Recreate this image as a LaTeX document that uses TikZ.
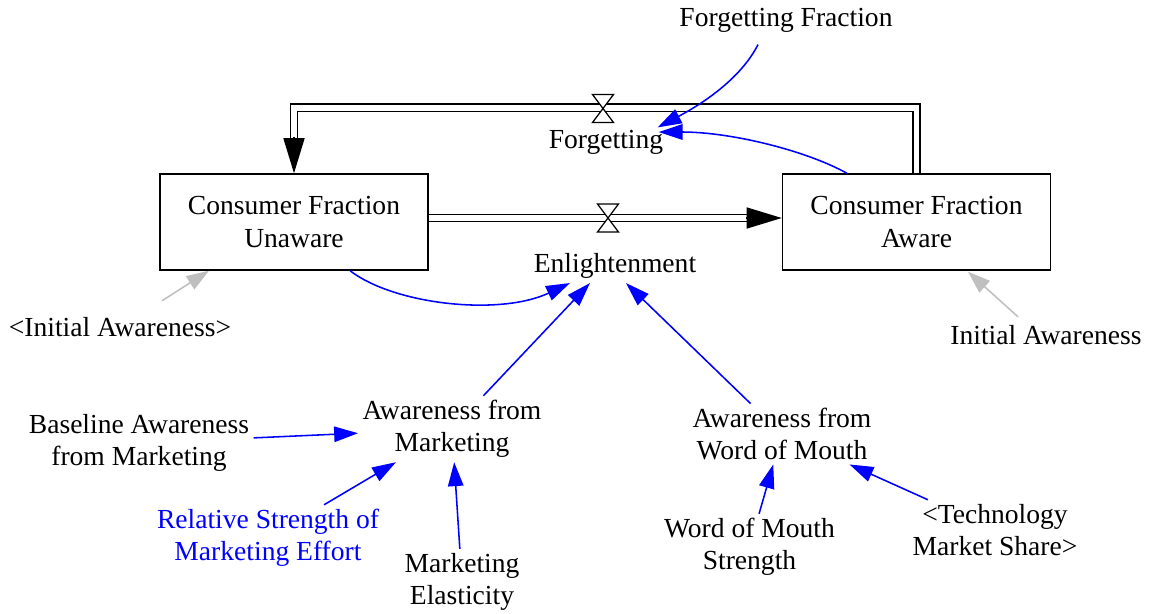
\documentclass[tikz,border=0pt]{standalone}
\usepackage{fontspec}
\setmainfont{Liberation Serif}
\usepackage{tikz}
\usetikzlibrary{calc,arrows.meta}
\tikzset{
	stock/.style={draw=black,line width=1pt,minimum width=6.7cm,minimum height=2.4cm,align=center,inner sep=3pt},
	aux/.style={align=center,inner sep=3pt},
	link/.style={-{Triangle[length=17pt,width=11pt]},draw=blue,line width=1.1pt},
	shadow/.style={-{Triangle[length=16pt,width=11pt]},draw=black!25,line width=1.1pt},
	pipe/.style={draw=black,line width=1.1pt,double=white,double distance=4pt},
	flowtip/.style={-{Triangle[length=25pt,width=15pt]},draw=black,line width=1pt}
}

\begin{document}
\begin{tikzpicture}[x=0.025cm,y=-0.025cm,
			font=\fontsize{19.6}{22.8}\selectfont,
			valve/.style={draw=black,fill=white,line width=0.9pt,line join=miter}]
			\useasboundingbox (0,0) rectangle (1153,613);
			\node[stock] (unaware) at (294,222) {Consumer Fraction\\Unaware};
			\node[stock] (aware) at (916.5,222) {Consumer Fraction\\Aware};
			\node[aux] (enl) at (615,266) {Enlightenment};
			\node[aux] (fgt) at (606,142) {Forgetting};
			\node[aux] (ffrac) at (786,20) {Forgetting Fraction};
			\node[aux] (iaL) at (120,327) {<Initial Awareness>};
			\node[aux] (iaR) at (1046,335) {Initial Awareness};
			\node[aux] (afm) at (452,429) {Awareness from\\Marketing};
			\node[aux] (afwom) at (782,434) {Awareness from\\Word of Mouth};
			\node[aux] (base) at (139,443) {Baseline Awareness\\from Marketing};
			\node[aux,blue] (rel) at (268,538) {Relative Strength of\\Marketing Effort};
			\node[aux] (elast) at (462,582) {Marketing\\Elasticity};
			\node[aux] (womstr) at (749.5,547) {Word of Mouth\\Strength};
			\node[aux] (share) at (995,530) {<Technology\\Market Share>};
			\draw[pipe] ($(unaware.east)+(0,-4)$) -- ($(aware.west)+(-34,-4)$);
			\draw[flowtip] ($(aware.west)+(-36,-4)$) -- ($(aware.west)+(0,-4)$);
			\draw[pipe] (aware.north) |- ($(unaware.north)+(0,-65.5)$) -- ($(unaware.north)+(0,-34)$);
			\draw[flowtip] ($(unaware.north)+(0,-36)$) -- (unaware.north);
			\coordinate (enlvalve) at (608,218);
			\coordinate (fgtvalve) at (603,108.5);
			\foreach \v in {enlvalve,fgtvalve}
			\draw[valve] (\v) +(-10.5,-14) -- +(10.5,-14) -- +(-10.5,14) -- +(10.5,14) -- cycle;
			\foreach \a/\b in {base/afm,rel/afm,elast/afm,womstr/afwom,share/afwom}
			\draw[link] (\a) -- (\b);
			\draw[link] (afm) -- ($(enl.south)+(-25,0)$);
			\draw[link] (afwom) -- ($(enl.south)+(11,0)$);
			\draw[link] ($(unaware.south)+(56,0)$) .. controls (395,305) and (500,316) .. ($(enl.south)+(-45,0)$);
			\draw[link] ($(ffrac.south)+(-28,8)$) .. controls (740,80) and (700,105) .. ($(fgt.north east)+(-10,2)$);
			\draw[link] ($(aware.north)+(-69.5,0)$) .. controls (805,150) and (730,132) .. ($(fgt.east)+(-9,-10)$);
			\draw[shadow] ($(iaL.north)+(42,-12)$) -- ($(unaware.south)+(-85,0)$);
			\draw[shadow] ($(iaR.north)+(-28,-4)$) -- ($(aware.south)+(51.5,1)$);
		\end{tikzpicture}
\end{document}
